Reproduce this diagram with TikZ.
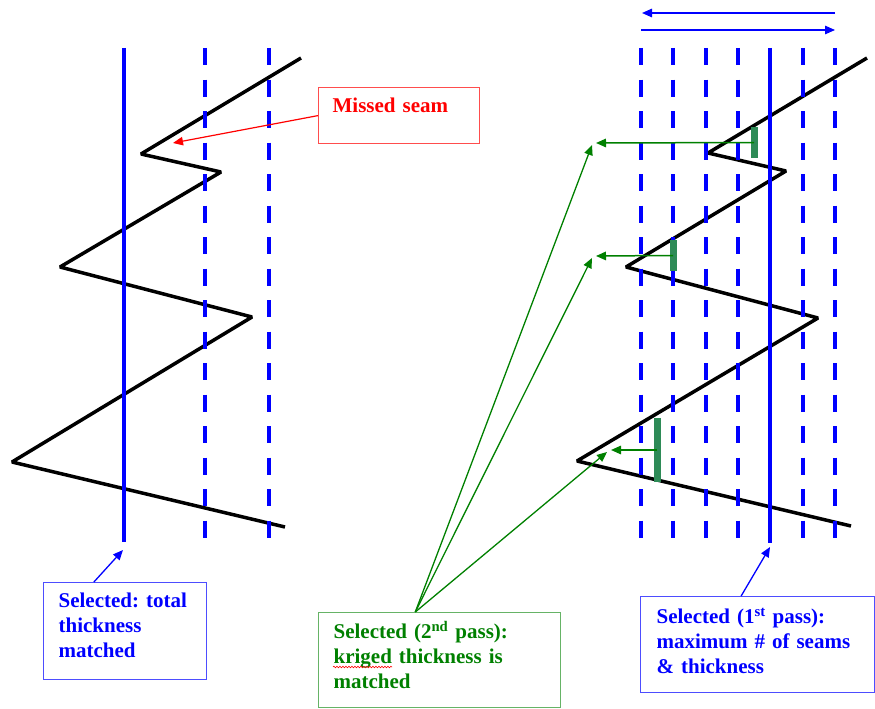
\documentclass[tikz,border=0pt]{standalone}
\usepackage{fontspec}
\setmainfont{Liberation Serif}
\usepackage{xcolor}
\usetikzlibrary{arrows.meta,calc,decorations.pathmorphing}
\definecolor{seamblue}{HTML}{0000FF}
\definecolor{boxblue}{HTML}{4D4DFF}
\definecolor{missred}{HTML}{FF0000}
\definecolor{boxred}{HTML}{FF4D4D}
\definecolor{passgreen}{HTML}{008000}
\definecolor{boxgreen}{HTML}{66B366}
\definecolor{barcolor}{HTML}{2E8B57}
\frenchspacing

\begin{document}
\begin{tikzpicture}[x=1pt,y=-1pt,>={Triangle[length=10pt,width=8.5pt]}]
  \tikzstyle{callout}=[draw,line width=1.2pt,anchor=north west,align=left,inner ysep=0pt,font=\fontsize{21}{25}\selectfont\bfseries]
  \tikzstyle{borehole}=[seamblue,line width=4.5pt]
  \tikzstyle{hole}=[seamblue,line width=4pt,dash pattern=on 17pt off 14.5pt]
  \tikzstyle{seams}=[black,line width=3.5pt,line join=bevel]
  \tikzstyle{kriged}=[barcolor,line width=7pt]
  \tikzstyle{pointer}=[->,passgreen,line width=1.3pt]
  \useasboundingbox (0,0) rectangle (875,709);

  % left: one pass, total thickness
  \draw[seams] (301,58) -- (141,154) -- (221,172) -- (60,267) -- (252,317) -- (12,462) -- (285,527);
  \draw[borehole] (124,48) -- (124,542);
  \foreach \x in {205,269} \draw[hole] (\x,48) -- (\x,538);
  \coordinate (miss) at (173,143);
  \coordinate (totaltip) at (123,550);

  % right: scanning window
  \draw[seams] (867,58) -- (708,153) -- (786,171) -- (626,267) -- (818,318) -- (577,461) -- (851,526);
  \draw[borehole] (770,48) -- (770,543);
  \foreach \x in {641,673,706,738,803,835} \draw[hole] (\x,48) -- (\x,538);
  \coordinate (firsttip) at (770,547);

  \coordinate (spanR) at (835,13);
  \coordinate (spanL) at (642,13);
  \coordinate (backL) at (641,30);
  \coordinate (backR) at (835,30);
  \draw[->,seamblue,line width=1.5pt] (spanR) -- (spanL);
  \draw[->,seamblue,line width=1.5pt] (backL) -- (backR);

  % kriged thickness bars
  \foreach \n/\x/\ya/\yb in {1/754/127/158, 2/673/240/271, 3/657/418/482} {
    \draw[kriged] (\x,\ya) -- (\x,\yb);
    \coordinate (krig\n) at (\x,{(\ya+\yb)/2});
  }
  \coordinate (est1) at (596,143);
  \coordinate (est2) at (596,256);
  \coordinate (est3) at (611,450);
  \coordinate (diag1) at (592,145);
  \coordinate (diag2) at (592,258);
  \coordinate (diag3) at (607,452);
  \foreach \n in {1,2,3} \draw[pointer,line width=1.5pt] (krig\n) -- (est\n);

  % callouts
  \node[callout,draw=boxred,text=missred,inner xsep=14pt,text width=133pt,text height=25pt,text depth=31pt] (missed) at (318,87) {Missed seam};
  \node[callout,draw=boxblue,text=seamblue,inner xsep=15pt,text width=133pt,text height=25pt,text depth=72pt] (total) at (43,582) {Selected: total\\thickness\\matched};
  \node[callout,draw=boxgreen,text=passgreen,inner xsep=15pt,text width=212pt,text height=26pt,text depth=69pt] (second) at (318,612) {Selected (2\textsuperscript{nd} pass):\\kriged thickness is\\matched};
  \node[callout,draw=boxblue,text=seamblue,inner xsep=16pt,text width=202pt,text height=27pt,text depth=69pt] (first) at (640,596) {Selected (1\textsuperscript{st} pass):\\maximum \# of seams\\\& thickness};
  \draw[red,line width=0.6pt,decorate,decoration={snake,amplitude=0.8pt,segment length=3pt}] (333,667) -- (392,667);

  \draw[->,missred,line width=1.2pt] (missed.west) -- (miss);
  \draw[->,seamblue,line width=1.3pt] ($(total.north west)!0.31!(total.north east)$) -- (totaltip);
  \draw[->,seamblue,line width=1.3pt] ($(first.north west)!0.43!(first.north east)$) -- (firsttip);
  \foreach \n in {1,2,3} \draw[pointer] ($(second.north west)!0.4!(second.north east)$) -- (diag\n);
\end{tikzpicture}
\end{document}
